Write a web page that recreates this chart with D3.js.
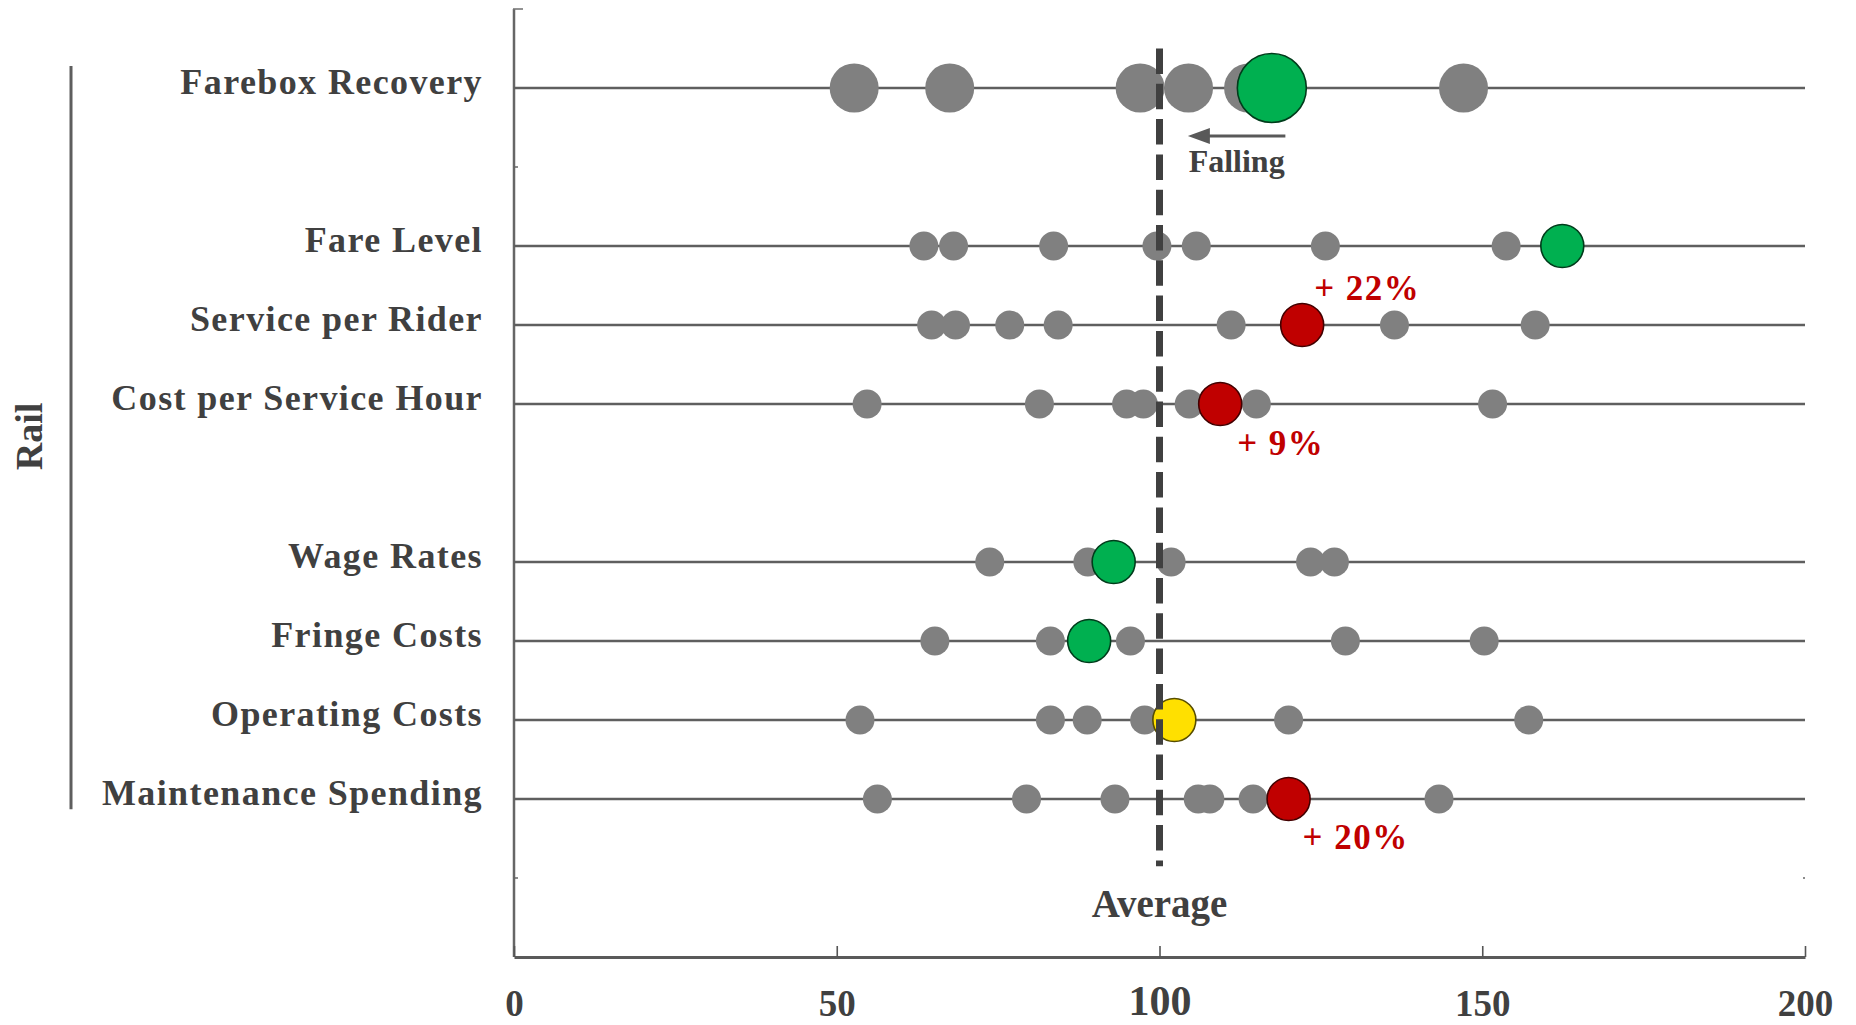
<!DOCTYPE html>
<html>
<head>
<meta charset="utf-8">
<script src="https://cdn.jsdelivr.net/npm/d3@7"></script>
<style>
  html, body { margin: 0; padding: 0; background: #ffffff; }
  svg { display: block; font-family: "Liberation Serif", "Times New Roman", serif; font-weight: bold; }
</style>
</head>
<body>
<svg id="chart" width="1856" height="1025"></svg>
<script>
// Rail cost and performance indices, peer average = 100
const groupLabel = "Rail";
const groupSizes = [1, 3, 4];   // metrics per block, blocks separated by an empty row
const categories = [
  "Farebox Recovery",
  "Fare Level",
  "Service per Rider",
  "Cost per Service Hour",
  "Wage Rates",
  "Fringe Costs",
  "Operating Costs",
  "Maintenance Spending"
];
// peer agencies (grey dots), one list per metric
const peerValues = [
  [52.7, 67.5, 97.0, 104.5, 113.8, 147.1],
  [63.5, 68.1, 83.6, 99.6, 105.7, 125.7, 153.7],
  [64.7, 68.4, 76.8, 84.3, 111.1, 136.4, 158.2],
  [54.7, 81.4, 94.9, 97.5, 104.6, 115.0, 151.6],
  [73.7, 88.9, 101.8, 123.4, 127.1],
  [65.2, 83.1, 95.5, 128.8, 150.3],
  [53.6, 83.1, 88.8, 97.7, 120.0, 157.2],
  [56.3, 79.4, 93.1, 106.0, 107.8, 114.5, 143.3]
];
// the agency itself, and how it rates against peers
const agencyValues = [117.4, 162.4, 122.1, 109.4, 92.9, 89.1, 102.3, 120.0];
const agencyRating = ["good", "good", "poor", "poor", "good", "good", "neutral", "poor"];
const changeLabels = [null, null, "+ 22%", "+ 9%", null, null, null, "+ 20%"];
const xTicks = [0, 50, 100, 150, 200];
const averageValue = 100;
const averageLabel = "Average";
const trendLabel = "Falling";
const trendFrom = 119.5;
const trendTo = 104.4;

const ratingFill = { good: "#00b050", poor: "#c00000", neutral: "#ffe000" };
const ink = "#404040";

// row index for every metric, with one empty row between blocks
const rowIndex = {};
{
  let i = 0, k = 0;
  groupSizes.forEach((n, g) => {
    if (g > 0) i++;
    for (let j = 0; j < n; j++) rowIndex[categories[k++]] = i++;
  });
}
const lastRow = d3.max(Object.values(rowIndex));

const svg = d3.select("#chart");
const x = d3.scaleLinear().domain([0, 200]).range([514, 1805]);
const y = d3.scaleLinear().domain([-1, lastRow + 2]).range([9, 957]);

// vertical frame line on the left with its small marks
svg.append("line")
  .attr("x1", x(0)).attr("x2", x(0))
  .attr("y1", y(-1)).attr("y2", y(lastRow + 2))
  .attr("stroke", "#666").attr("stroke-width", 2.5);
svg.append("line")
  .attr("x1", x(0) - 1).attr("x2", x(0) + 9)
  .attr("y1", y(-1)).attr("y2", y(-1))
  .attr("stroke", "#777").attr("stroke-width", 1.6);
[1, lastRow + 1].forEach(r => {
  svg.append("line")
    .attr("x1", x(0)).attr("x2", x(0) + 4)
    .attr("y1", y(r)).attr("y2", y(r))
    .attr("stroke", "#666").attr("stroke-width", 1.5);
});
svg.append("line")
  .attr("x1", x(200) - 2).attr("x2", x(200))
  .attr("y1", y(lastRow + 1)).attr("y2", y(lastRow + 1))
  .attr("stroke", "#666").attr("stroke-width", 1.5);

// one horizontal rule per metric
svg.append("g").selectAll("line")
  .data(categories)
  .join("line")
  .attr("x1", x(0)).attr("x2", x(200))
  .attr("y1", d => y(rowIndex[d])).attr("y2", d => y(rowIndex[d]))
  .attr("stroke", "#5f5f5f").attr("stroke-width", 2.5);

// bottom axis
const xAxis = svg.append("g")
  .attr("transform", `translate(0,${y(lastRow + 2)})`)
  .call(d3.axisBottom(x).tickValues(xTicks).tickSizeInner(-11).tickSizeOuter(0).tickFormat(d3.format("d")));
xAxis.select(".domain").attr("stroke", "#5a5a5a").attr("stroke-width", 3);
xAxis.selectAll(".tick line").attr("stroke", "#555").attr("stroke-width", 1.6);
xAxis.selectAll(".tick text")
  .attr("fill", ink)
  .attr("font-family", "Liberation Serif, Times New Roman, serif")
  .attr("font-weight", "bold")
  .attr("font-size", d => d === averageValue ? 42 : 37)
  .attr("dy", 0)
  .attr("y", d => d === averageValue ? 58 : 59);

// peers
const isHeadline = i => i === 0;
const rows = svg.append("g");
categories.forEach((c, i) => {
  rows.append("g").selectAll("circle")
    .data(peerValues[i])
    .join("circle")
    .attr("cx", d => x(d))
    .attr("cy", y(rowIndex[c]))
    .attr("r", isHeadline(i) ? 24.5 : 14.5)
    .attr("fill", "#808080");
});

// the agency
rows.append("g").selectAll("circle")
  .data(categories)
  .join("circle")
  .attr("cx", (c, i) => x(agencyValues[i]))
  .attr("cy", c => y(rowIndex[c]))
  .attr("r", (c, i) => isHeadline(i) ? 34.5 : 21.5)
  .attr("fill", (c, i) => ratingFill[agencyRating[i]])
  .attr("stroke", (c, i) => d3.color(ratingFill[agencyRating[i]]).darker(3))
  .attr("stroke-width", 1.6);

// dashed average line
svg.append("line")
  .attr("x1", x(averageValue)).attr("x2", x(averageValue))
  .attr("y1", y(-0.5)).attr("y2", y(lastRow + 0.85))
  .attr("stroke", ink).attr("stroke-width", 7)
  .attr("stroke-dasharray", "25.5 9.8");

svg.append("text")
  .attr("x", x(averageValue)).attr("y", y(lastRow + 1.49))
  .attr("text-anchor", "middle")
  .attr("font-size", 39).attr("fill", ink)
  .text(averageLabel);

// percentage changes next to the flagged metrics
const changeOffset = { "Service per Rider": [12, -25.5], "Cost per Service Hour": [17, 51], "Maintenance Spending": [14, 50] };
categories.forEach((c, i) => {
  if (!changeLabels[i]) return;
  const [dx, dy] = changeOffset[c];
  svg.append("text")
    .attr("x", x(agencyValues[i]) + dx)
    .attr("y", y(rowIndex[c]) + dy)
    .attr("font-size", 35).attr("fill", "#c00000")
    .attr("letter-spacing", "1.5px")
    .text(changeLabels[i]);
});

// trend arrow under the headline metric
const trendY = y(rowIndex[categories[0]] + 0.607);
const headLen = 22, headHalf = 8;
svg.append("line")
  .attr("x1", x(trendFrom)).attr("x2", x(trendTo) + headLen - 2)
  .attr("y1", trendY).attr("y2", trendY)
  .attr("stroke", "#595959").attr("stroke-width", 3);
svg.append("path")
  .attr("d", `M${x(trendTo)},${trendY} L${x(trendTo) + headLen},${trendY - headHalf} L${x(trendTo) + headLen},${trendY + headHalf} Z`)
  .attr("fill", "#595959");
svg.append("text")
  .attr("x", x((trendFrom + trendTo) / 2)).attr("y", y(rowIndex[categories[0]] + 1.063))
  .attr("text-anchor", "middle")
  .attr("font-size", 32).attr("fill", ink)
  .text(trendLabel);

// metric names
svg.append("g").selectAll("text")
  .data(categories)
  .join("text")
  .attr("x", 483)
  .attr("y", c => y(rowIndex[c]) + 6)
  .attr("text-anchor", "end")
  .attr("font-size", 36)
  .attr("letter-spacing", "1.4px")
  .attr("fill", ink)
  .text(c => c);

// group bracket and name
svg.append("line")
  .attr("x1", 71).attr("x2", 71)
  .attr("y1", y(-0.28)).attr("y2", y(lastRow + 0.13))
  .attr("stroke", "#5e5e5e").attr("stroke-width", 3);
svg.append("text")
  .attr("transform", `translate(42,${y(lastRow / 2) - 7}) rotate(-90)`)
  .attr("text-anchor", "middle")
  .attr("font-size", 38).attr("fill", ink)
  .text(groupLabel);
</script>
</body>
</html>
